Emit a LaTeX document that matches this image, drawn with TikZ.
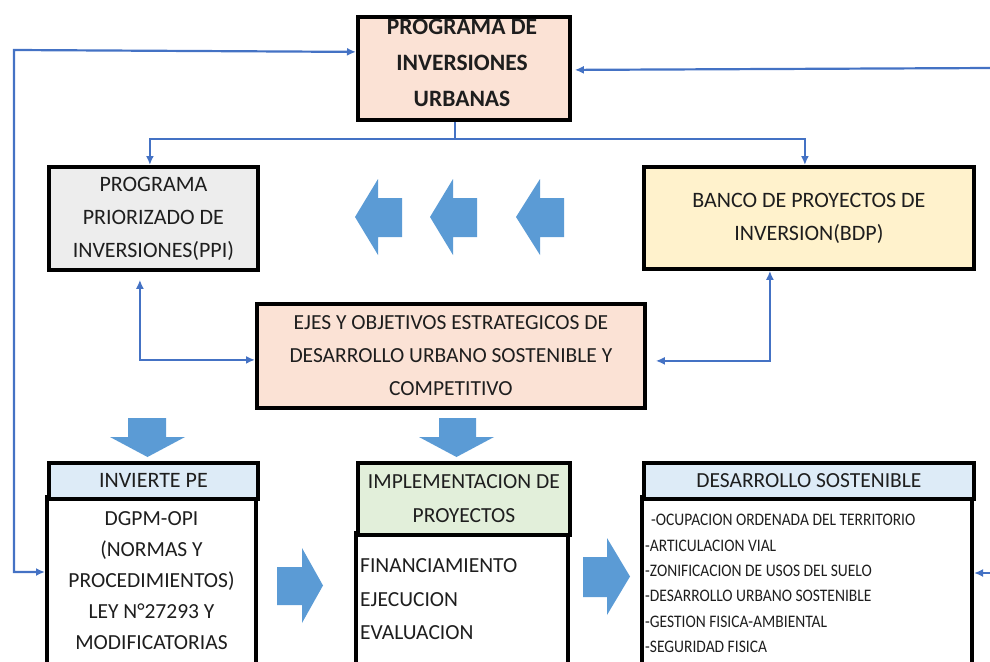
\documentclass[tikz,border=0pt]{standalone}
\usepackage{fontspec}
\setmainfont{Carlito}
\newfontfamily\condfont{Carlito}[FakeStretch=0.88]
\usetikzlibrary{arrows.meta}
\definecolor{peach}{HTML}{FBE2D5}
\definecolor{gris}{HTML}{EDEDED}
\definecolor{amar}{HTML}{FFF2CC}
\definecolor{celeste}{HTML}{DDEBF7}
\definecolor{verde}{HTML}{E2EFDA}
\definecolor{linea}{HTML}{4472C4}
\definecolor{bloque}{HTML}{5B9BD5}
\definecolor{texto}{HTML}{1E1E1E}
\begin{document}
\begin{tikzpicture}[x=1pt,y=-1pt,
  box/.style={draw=black, line width=3.8pt, inner sep=0pt, align=center, anchor=north west, text=texto},
  bodybox/.style={draw=black, line width=3.8pt},
  conn/.style={draw=linea, line width=2.2pt, -{Latex[length=9pt,width=8pt]}},
  dconn/.style={draw=linea, line width=2.2pt, {Latex[length=9pt,width=8pt]}-{Latex[length=9pt,width=8pt]}},
  plain/.style={draw=linea, line width=2.2pt},
  blockarrow/.style={fill=bloque},
  txt/.style={inner sep=0pt, text=texto}]
\useasboundingbox (0,0) rectangle (990,661);
\clip (0,0) rectangle (990,661);

% top box
\node[box, fill=peach, minimum width=212pt, minimum height=103pt] (piu) at (356,15) {};
\node[txt, align=center, font=\bfseries\fontsize{23.5}{36}\selectfont] (piutxt) at (462,62.5)
  {PROGRAMA DE\\INVERSIONES\\URBANAS};

% second row
\node[box, fill=gris, minimum width=209pt, minimum height=103pt,
  font=\fontsize{22}{33}\selectfont] (ppi) at (47,165) {PROGRAMA\\PRIORIZADO DE\\INVERSIONES(PPI)};
\node[box, fill=amar, minimum width=330pt, minimum height=102pt,
  font=\fontsize{22}{33}\selectfont] (bdp) at (642,165) {BANCO DE PROYECTOS DE\\INVERSION(BDP)};

% middle box
\node[box, fill=peach, minimum width=388pt, minimum height=104pt,
  font=\fontsize{21.5}{33}\selectfont] (ejes) at (255,302) {EJES Y OBJETIVOS ESTRATEGICOS DE\\DESARROLLO URBANO SOSTENIBLE Y\\COMPETITIVO};

% bottom boxes
\draw[bodybox] (47,497) rectangle (256,700);
\node[box, fill=celeste, minimum width=209pt, minimum height=36pt,
  font=\fontsize{22}{33}\selectfont] (inv) at (47,461) {INVIERTE PE};
\node[txt, align=center, font=\fontsize{21.5}{31}\selectfont] (invtxt) at (151.5,580.5)
  {DGPM-OPI\\(NORMAS Y\\PROCEDIMIENTOS)\\LEY N°27293 Y\\MODIFICATORIAS};

\draw[bodybox] (356,533) rectangle (568,700);
\node[box, fill=verde, minimum width=212pt, minimum height=72pt,
  font=\fontsize{21.5}{34}\selectfont] (impl) at (356,461) {IMPLEMENTACION DE\\PROYECTOS};
\node[txt, align=left, anchor=west, font=\fontsize{21.5}{33.5}\selectfont] (impltxt) at (360,599.5)
  {FINANCIAMIENTO\\EJECUCION\\EVALUACION};

\draw[bodybox] (642,497) rectangle (972,700);
\node[box, fill=celeste, minimum width=330pt, minimum height=36pt,
  font=\fontsize{21.5}{33}\selectfont] (des) at (642,461) {DESARROLLO SOSTENIBLE};
\node[txt, align=left, anchor=west, font=\condfont\fontsize{17.6}{25.4}\selectfont] (destxt) at (645,583.5)
  {\hspace{6pt}-OCUPACION ORDENADA DEL TERRITORIO\\-ARTICULACION VIAL\\-ZONIFICACION DE USOS DEL SUELO\\-DESARROLLO URBANO SOSTENIBLE\\-GESTION FISICA-AMBIENTAL\\-SEGURIDAD FISICA};

% connectors
\coordinate (invW) at (45,572);
\coordinate (lcorner) at (14,50);
\draw[dconn] (invW) -| (lcorner) -- ([yshift=16.5pt]piu.west);

\coordinate (rtop) at (992,68);
\draw[conn] (rtop) -- ([xshift=3pt,yshift=-1.5pt]piu.east);

\draw[plain] ([xshift=-9pt]piu.south) -- ++(0,17) coordinate (split);
\draw[conn] (split) -| ([xshift=-3.5pt]ppi.north);
\draw[conn] (split) -| ([xshift=-4pt]bdp.north);

\draw[dconn] ([xshift=-13.5pt,yshift=-8pt]ppi.south) |- ([yshift=-4pt]ejes.west);
\draw[dconn] ([xshift=-39pt]bdp.south) |- ([yshift=-5pt,xshift=9pt]ejes.east);

\coordinate (rbot) at (992,573);
\coordinate (desE) at (974,573);
\draw[conn] (rbot) -- (desE);

% block arrows (left)
\fill[blockarrow] (355,217) -- (378,179) -- (378,198) -- (402,198) -- (402,237) -- (378,237) -- (378,255) -- cycle;
\fill[blockarrow] (430,217) -- (453,179) -- (453,198) -- (477,198) -- (477,237) -- (453,237) -- (453,255) -- cycle;
\fill[blockarrow] (516,217) -- (540,179) -- (540,198) -- (564,198) -- (564,237) -- (540,237) -- (540,255) -- cycle;
% block arrows (down)
\fill[blockarrow] (128,418) -- (166,418) -- (166,437) -- (185,437) -- (147.5,457) -- (110,437) -- (128,437) -- cycle;
\fill[blockarrow] (439,418) -- (476,418) -- (476,437) -- (494,437) -- (456.5,457) -- (419,437) -- (439,437) -- cycle;
% block arrows (right)
\fill[blockarrow] (277,567) -- (302,567) -- (302,548) -- (323,585.5) -- (302,623) -- (302,605) -- (277,605) -- cycle;
\fill[blockarrow] (583,557) -- (607,557) -- (607,538) -- (630,576.5) -- (607,615) -- (607,597) -- (583,597) -- cycle;
\end{tikzpicture}
\end{document}
